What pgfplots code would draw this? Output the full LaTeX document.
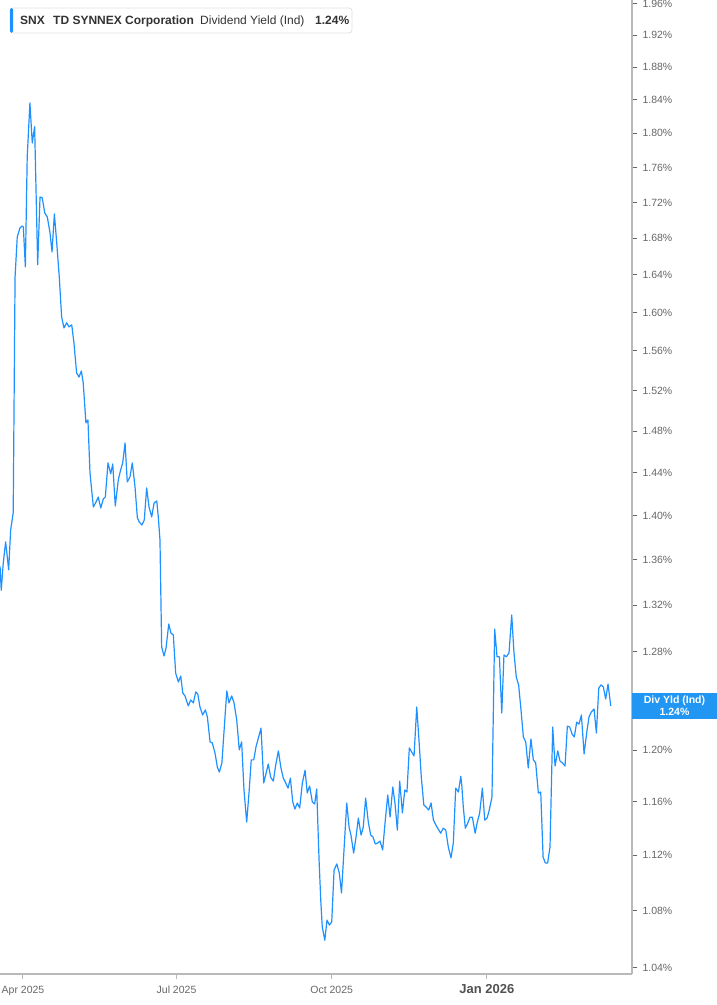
\documentclass[border=0pt]{standalone}
\usepackage{pgfplots}
\usepackage{pgfplotstable}
\pgfplotsset{compat=1.18}
\usepackage{fontspec}
\setmainfont{Liberation Sans}

\definecolor{linec}{RGB}{30,144,255}
\definecolor{boxc}{RGB}{33,150,243}
\definecolor{axisc}{RGB}{185,185,185}
\definecolor{tickc}{RGB}{102,102,102}
\definecolor{textc}{RGB}{51,51,51}

% day 0 = 1 Apr 2025
\pgfplotstableread{
d v
-13.6 1.354
-12.9 1.333
-11.7 1.357
-10.3 1.376
-9.7 1.368
-8.5 1.351
-7.3 1.387
-5.8 1.4025
-4.7 1.638
-3.4 1.6815
-1.8 1.6915
-0.4 1.6937
0.2 1.6926
1.4 1.6487
2.5 1.7724
4.1 1.8364
5.5 1.7888
6.9 1.8077
8.7 1.6509
10.1 1.7263
11.4 1.7252
12.9 1.7082
14.4 1.7037
16.0 1.686
17.2 1.665
18.6 1.7071
20.0 1.6749
21.5 1.638
22.9 1.5954
24.3 1.5838
25.9 1.5891
27.3 1.5849
28.9 1.587
30.2 1.5683
31.8 1.5376
33.2 1.5336
34.6 1.5396
35.7 1.5276
37.3 1.488
38.5 1.4909
39.7 1.44
41.7 1.408
43.3 1.4126
44.6 1.4172
46.1 1.4071
47.6 1.4154
48.8 1.4172
50.4 1.4494
52.0 1.439
53.2 1.4484
54.7 1.4089
56.5 1.4333
57.9 1.4427
59.1 1.4494
60.5 1.4685
61.8 1.4314
63.4 1.4361
64.8 1.4494
66.4 1.4267
67.8 1.3979
68.9 1.3942
70.5 1.3914
71.9 1.396
73.3 1.4257
74.7 1.408
76.3 1.3988
77.7 1.4117
79.3 1.4135
80.2 1.3988
81.2 1.3777
82.2 1.2842
83.6 1.2766
84.8 1.2834
86.4 1.3037
87.7 1.296
89.1 1.2943
90.5 1.2623
92.1 1.2549
93.5 1.2598
94.7 1.246
96.0 1.2435
98.0 1.2354
99.4 1.2402
101.0 1.2378
102.4 1.2468
103.6 1.2451
104.9 1.2345
106.5 1.228
108.1 1.2321
109.3 1.2264
110.9 1.2065
112.2 1.2057
113.8 1.1978
115.2 1.1867
116.4 1.1828
117.9 1.1899
119.1 1.2136
120.8 1.2476
122.1 1.2378
123.7 1.2435
125.1 1.2378
126.7 1.2239
128.2 1.2002
129.6 1.2065
131.0 1.1689
132.6 1.1445
134.1 1.1689
135.3 1.1923
136.8 1.1923
138.1 1.2025
139.7 1.2104
141.1 1.2175
142.7 1.1743
144.1 1.1819
145.4 1.1891
146.8 1.1788
148.4 1.1758
149.8 1.1883
151.4 1.1994
152.8 1.1867
154.3 1.1781
155.5 1.175
157.1 1.1704
158.5 1.1781
159.9 1.1598
161.2 1.1544
162.6 1.159
164.0 1.1552
165.6 1.1743
167.2 1.1843
168.5 1.1667
169.9 1.172
171.5 1.1598
172.9 1.1582
174.1 1.1697
175.5 1.1164
176.5 1.0874
177.4 1.0682
178.9 1.059
180.2 1.0732
181.6 1.0697
183.0 1.0718
184.4 1.109
186.0 1.1135
187.5 1.1069
188.8 1.0924
191.9 1.159
193.3 1.1407
194.4 1.1348
196.0 1.1215
197.4 1.1333
198.8 1.1476
200.4 1.1348
201.7 1.1407
203.1 1.1628
204.7 1.1445
206.1 1.1348
207.5 1.1333
208.8 1.1282
210.2 1.1289
211.6 1.1304
213.2 1.1238
214.6 1.1438
216.2 1.1651
217.6 1.1484
219.2 1.1712
220.5 1.159
221.9 1.1385
223.3 1.1758
224.9 1.1514
226.3 1.1689
227.6 1.1674
229.0 1.2017
230.4 1.1986
231.8 1.1954
233.4 1.2345
234.8 1.2065
236.1 1.1788
237.6 1.1575
238.9 1.156
240.5 1.1537
241.9 1.159
243.3 1.146
244.8 1.1422
246.2 1.1392
247.6 1.1362
249.1 1.14
250.6 1.1385
252.1 1.126
253.7 1.1179
255.1 1.1292
256.5 1.1704
258.1 1.1674
259.5 1.1796
260.1 1.1727
261.0 1.156
262.2 1.14
263.6 1.1437
265.0 1.1483
266.4 1.1483
268.0 1.1362
269.3 1.1445
270.7 1.1514
272.3 1.1704
273.7 1.146
275.1 1.1476
276.4 1.1537
278.0 1.1636
279.6 1.2994
281.0 1.2758
282.4 1.2758
283.8 1.2296
285.1 1.2775
286.5 1.2758
288.1 1.2792
289.7 1.3115
291.0 1.28
292.4 1.259
293.8 1.2525
295.2 1.2321
296.6 1.2104
298.0 1.2065
299.5 1.186
301.1 1.2088
302.5 1.1923
303.9 1.19
305.5 1.1666
306.9 1.1674
308.3 1.1186
309.6 1.1142
311.0 1.1142
312.4 1.126
314.0 1.2183
315.4 1.1875
317.0 1.1994
318.3 1.1915
319.7 1.19
321.3 1.1875
322.7 1.2191
324.1 1.2183
325.5 1.2128
326.8 1.2104
328.2 1.2222
329.6 1.2207
331.0 1.228
332.6 1.197
334.2 1.2143
335.5 1.2264
336.9 1.2305
338.5 1.2329
339.9 1.2136
341.3 1.25
342.6 1.2525
344.0 1.2509
345.4 1.241
346.8 1.2533
348.4 1.2354
}\divyield

\begin{document}
\begin{tikzpicture}
\path[use as bounding box] (0pt,0pt) rectangle (717pt,1005pt);
\begin{axis}[
    at={(0pt,31pt)}, anchor=south west,
    width=632pt, height=974pt, scale only axis,
    ymode=log, log basis y=10,
    xmin=-13.63, xmax=361,
    ymin=1.0358, ymax=1.9652,
    axis x line*=bottom, axis y line*=right,
    axis line style={axisc, line width=1.6pt, -},
    tick align=outside,
    major tick length=5pt,
    xtick={0,91,183,275},
    xticklabels={Apr 2025,Jul 2025,Oct 2025,{\fontsize{13}{15}\selectfont\bfseries\color{textc!85!white}Jan 2026}},
    xtick style={axisc, line width=1pt},
    xticklabel style={font=\fontsize{10.5}{12}\selectfont, text=tickc, anchor=base, yshift=-15pt},
    ytick={1.04,1.08,1.12,1.16,1.20,1.24,1.28,1.32,1.36,1.40,1.44,1.48,1.52,1.56,1.60,1.64,1.68,1.72,1.76,1.80,1.84,1.88,1.92,1.96},
    % the 1.24 label sits under the current-value tag
    yticklabels={1.04\%,1.08\%,1.12\%,1.16\%,1.20\%,,1.28\%,1.32\%,1.36\%,1.40\%,1.44\%,1.48\%,1.52\%,1.56\%,1.60\%,1.64\%,1.68\%,1.72\%,1.76\%,1.80\%,1.84\%,1.88\%,1.92\%,1.96\%},
    ytick style={tickc, line width=1pt},
    yticklabel style={font=\fontsize{10.5}{12}\selectfont, text=tickc, anchor=west, xshift=2pt},
    yminorticks=false, xminorticks=false,
]
\addplot[linec, line width=1.2pt, line join=round] table[x=d, y=v] {\divyield};
\end{axis}
% current value tag
\fill[boxc] (632pt,286pt) rectangle (717pt,312pt);
\node[text=white, font=\fontsize{10.5}{12}\selectfont\bfseries] at (674.5pt,304pt) {Div Yld (Ind)};
\node[text=white, font=\fontsize{10.5}{12}\selectfont\bfseries] at (674.5pt,293pt) {1.24\%};
% header box
\draw[draw=black!12, fill=white, rounded corners=3pt, line width=0.8pt] (10pt,972pt) rectangle (352pt,997pt);
\fill[linec, rounded corners=1.5pt] (10pt,972pt) rectangle (13pt,997pt);
\node[anchor=base west, inner sep=0pt, text=textc, font=\fontsize{12}{14}\selectfont\bfseries] at (20pt,980pt) {SNX};
\node[anchor=base west, inner sep=0pt, text=textc, font=\fontsize{12}{14}\selectfont\bfseries] at (53pt,980pt) {TD SYNNEX Corporation};
\node[anchor=base west, inner sep=0pt, text=textc, font=\fontsize{12}{14}\selectfont] at (200pt,980pt) {Dividend Yield (Ind)};
\node[anchor=base west, inner sep=0pt, text=textc, font=\fontsize{12}{14}\selectfont\bfseries] at (315pt,980pt) {1.24\%};
\end{tikzpicture}
\end{document}
